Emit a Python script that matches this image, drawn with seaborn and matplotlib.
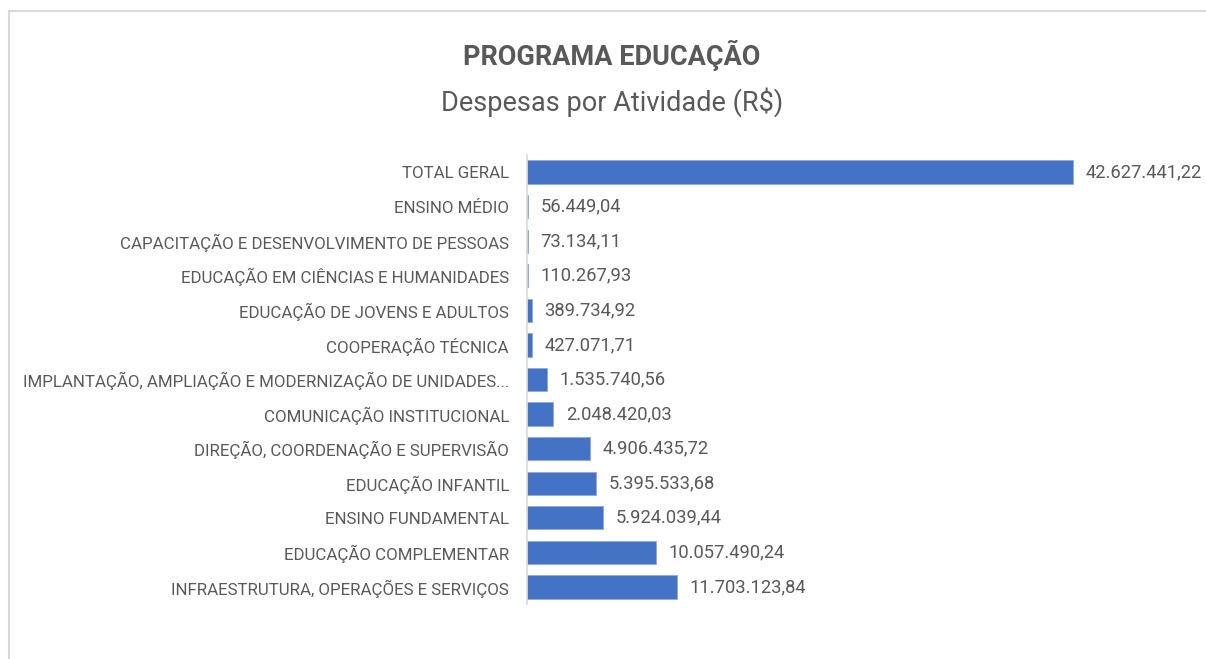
import matplotlib
matplotlib.use("Agg")
import matplotlib.pyplot as plt
import seaborn as sns
import pandas as pd
import numpy as np
from matplotlib.patches import Rectangle

categories = [
    "TOTAL GERAL",
    "ENSINO MÉDIO",
    "CAPACITAÇÃO E DESENVOLVIMENTO DE PESSOAS",
    "EDUCAÇÃO EM CIÊNCIAS E HUMANIDADES",
    "EDUCAÇÃO DE JOVENS E ADULTOS",
    "COOPERAÇÃO TÉCNICA",
    "IMPLANTAÇÃO, AMPLIAÇÃO E MODERNIZAÇÃO DE UNIDADES...",
    "COMUNICAÇÃO INSTITUCIONAL",
    "DIREÇÃO, COORDENAÇÃO E SUPERVISÃO",
    "EDUCAÇÃO INFANTIL",
    "ENSINO FUNDAMENTAL",
    "EDUCAÇÃO COMPLEMENTAR",
    "INFRAESTRUTURA, OPERAÇÕES E SERVIÇOS",
]
values = [
    42627441.22, 56449.04, 73134.11, 110267.93, 389734.92, 427071.71,
    1535740.56, 2048420.03, 4906435.72, 5395533.68, 5924039.44,
    10057490.24, 11703123.84,
]
title = "PROGRAMA EDUCAÇÃO"
subtitle = "Despesas por Atividade (R$)"

df = pd.DataFrame({"cat": categories, "val": values})

sns.set_style("white")
plt.rcParams["font.family"] = ["Roboto", "DejaVu Sans"]

W, H = 1206, 659
fig = plt.figure(figsize=(W / 100, H / 100), dpi=100)

# outer border
fig.patches.append(Rectangle((8.5 / W, -0.1), 1.2, 1 - 10.5 / H + 0.1,
                             transform=fig.transFigure, fill=False,
                             edgecolor="#D9D9D9", linewidth=1.5))

ax_left = 527 / W
ax_top = 154.7
ax_bot = 604.3
ax_right = 1190 / W
ax = fig.add_axes([ax_left, 1 - ax_bot / H, ax_right - ax_left, (ax_bot - ax_top) / H])

sns.barplot(data=df, x="val", y="cat", orient="h", color="#4472C4",
            width=0.67, edgecolor="#8FAADC", linewidth=0.6, ax=ax, saturation=1)

px_per_unit = (1073 - 527) / values[0]
ax.set_xlim(0, (1190 - 527) / px_per_unit)
ax.set_ylim(len(categories) - 0.5, -0.5)

def fmt(v):
    s = f"{v:,.2f}"
    return s.replace(",", "X").replace(".", ",").replace("X", ".")

for i, v in enumerate(values):
    ax.annotate(fmt(v), xy=(v, i), xytext=(9, 0), textcoords="offset points",
                va="center", ha="left", fontsize=13.2, color="#595959")

ax.set_xlabel("")
ax.set_ylabel("")
ax.set_xticks([])
for s in ["top", "right", "bottom"]:
    ax.spines[s].set_visible(False)
ax.spines["left"].set_color("#D9D9D9")
ax.spines["left"].set_linewidth(1.2)
ax.tick_params(axis="y", which="major", length=0, pad=13, labelsize=12.2, labelcolor="#595959")
ax.set_yticks(np.arange(-0.5, len(categories), 1.0), minor=True)
ax.tick_params(axis="y", which="minor", length=5, color="#D9D9D9", width=1.2)

fig.text(612 / W, 1 - 55 / H, title, ha="center", va="center", fontsize=19.5,
         fontweight="bold", color="#595959")
fig.text(612 / W, 1 - 102 / H, subtitle, ha="center", va="center", fontsize=19.5,
         color="#595959")

fig.savefig("out.png", dpi=100)
